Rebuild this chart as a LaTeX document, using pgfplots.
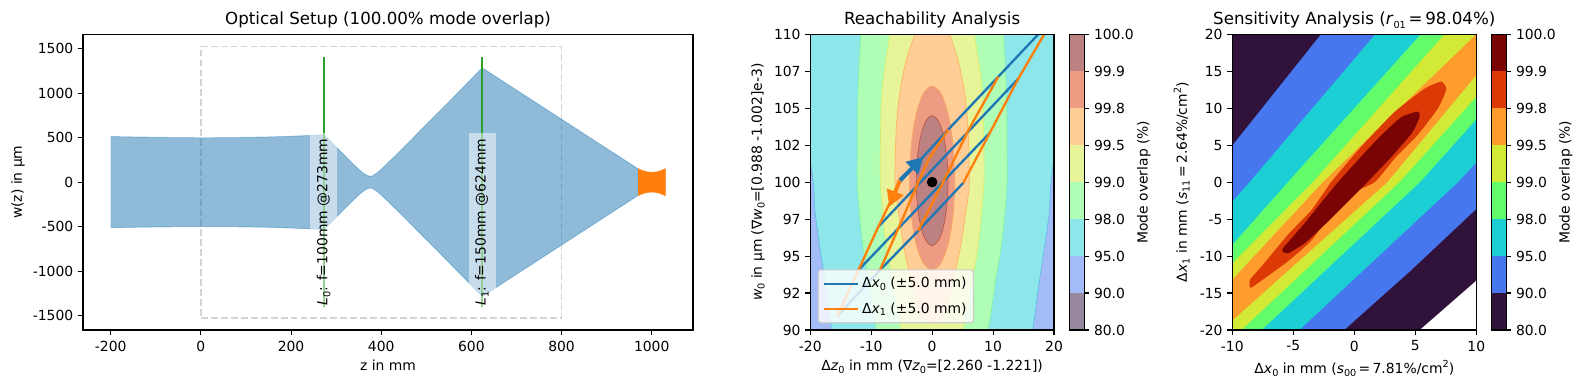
\documentclass[border=0pt]{standalone}
\usepackage{fontspec}
\setmainfont{DejaVu Sans}
\usepackage{pgfplots}
\pgfplotsset{compat=1.18}
\usetikzlibrary{arrows.meta}
\newcommand\sz{\fontsize{10.04}{12}\selectfont}
\newcommand\tsz{\fontsize{12.05}{14}\selectfont}
\newcommand\subs[1]{\raisebox{-0.2em}{\fontsize{7}{7}\selectfont #1}}
\newcommand\sups[1]{\raisebox{0.42em}{\fontsize{7}{7}\selectfont #1}}
\definecolor{tabblue}{HTML}{1F77B4}
\definecolor{taborange}{HTML}{FF7F0E}
\definecolor{tabgreen}{HTML}{2CA02C}
\definecolor{ta}{HTML}{30123B}
\definecolor{tb}{HTML}{4777EF}
\definecolor{tc}{HTML}{1BCFD4}
\definecolor{td}{HTML}{62FC6B}
\definecolor{te}{HTML}{D2E935}
\definecolor{tf}{HTML}{FE9B2D}
\definecolor{tg}{HTML}{DB3A07}
\definecolor{th}{HTML}{7A0403}
\pgfplotsset{
  base/.style={scale only axis, axis line style={line width=0.8pt}, 
    tick align=outside, major tick length=3.5pt, tick style={black,line width=0.8pt},
    xtick pos=bottom, ytick pos=left, axis on top, no markers,
    tick label style={font=\sz}, label style={font=\sz},
    xticklabel style={yshift=-0.7pt},
    every axis title shift=0pt,
    title style={font=\tsz, at={(axis description cs:0.5,1.048)},anchor=center},
    scaled ticks=false},
  cbar/.style={scale only axis, width=0.15in, height=2.957in, xmin=0,xmax=1,ymin=0,ymax=8,
    xtick=\empty, ytick={0,1,2,3,4,5,6,7,8},
    yticklabels={80.0,90.0,95.0,98.0,99.0,99.5,99.8,99.9,100.0},
    yticklabel pos=right, ytick pos=right, no markers, axis on top,
    axis line style={line width=0.8pt}, tick align=outside, major tick length=3.5pt,
    tick style={black,line width=0.8pt}, tick label style={font=\sz}, label style={font=\sz},
    ylabel={Mode overlap (\%)},
    ylabel style={at={(axis description cs:4.97,0.5)},anchor=center}},
}
\begin{document}
\begin{tikzpicture}
\path[use as bounding box] (0,0) rectangle (15.84in,3.9in);
%---------------- optical setup
\begin{axis}[base, at={(0.83in,0.60in)}, width=6.10in, height=2.957in,
  xmin=-261.5, xmax=1091.5, ymin=-1660, ymax=1660,
  xtick={-200,0,200,400,600,800,1000}, xticklabels={-200,0,200,400,600,800,1000},
  ytick={-1500,-1000,-500,0,500,1000,1500}, yticklabels={-1500,-1000,-500,0,500,1000,1500},
  title={Optical Setup (100.00\% mode overlap)},
  xlabel={z in mm}, ylabel={w(z) in µm},
  xlabel style={at={(axis description cs:0.5,-0.118)},anchor=center},
  ylabel style={at={(axis description cs:-0.1066,0.5)},anchor=center}]
\addplot[draw=black!17, line width=0.9pt, dash pattern=on 5pt off 2.2pt] coordinates {(0,-1525)(800,-1525)(800,1525)(0,1525)(0,-1525)};
\addplot[fill=tabblue, fill opacity=0.5, draw=tabblue, draw opacity=0.35, line width=0.7pt] coordinates {
 (-200,512)(-150,507)(-100,503)(-50,500)(0,498)(50,499)(100,502)(150,507)(200,515)(250,526)(273,533)
 (300,395)(320,293)(340,193)(350,145)(360,101)(370,72)(375,66)(380,69)(390,101)(400,144)(420,241)(450,391)(500,647)(550,901)(600,1159)(624,1283)
 (700,1034)(800,706)(900,378)(970,148)
 (970,-148)(900,-378)(800,-706)(700,-1034)(624,-1283)
 (600,-1159)(550,-901)(500,-647)(450,-391)(420,-241)(400,-144)(390,-101)(380,-69)(375,-66)(370,-72)(360,-101)(350,-145)(340,-193)(320,-293)(300,-395)
 (273,-533)(250,-526)(200,-515)(150,-507)(100,-502)(50,-499)(0,-498)(-50,-500)(-100,-503)(-150,-507)(-200,-512)};
\addplot[fill=taborange, draw=taborange, line width=0.5pt] coordinates {
 (970,150)(980,128)(990,114)(1000,110)(1010,114)(1020,128)(1030,150)
 (1030,-150)(1020,-128)(1010,-114)(1000,-110)(990,-114)(980,-128)(970,-150)};
\addplot[draw=tabgreen, line width=1.8pt] coordinates {(273,-1400)(273,1400)};
\addplot[draw=tabgreen, line width=1.8pt] coordinates {(624,-1400)(624,1400)};
\node[rotate=90, fill=white, fill opacity=0.5, text opacity=1, font=\sz, inner xsep=0.06in, inner ysep=0.07in, text height=0.1in, text depth=0.03in] at (axis cs:273,-449) {\textit{L}\subs{0}: f=100mm @273mm};
\node[rotate=90, fill=white, fill opacity=0.5, text opacity=1, font=\sz, inner xsep=0.06in, inner ysep=0.07in, text height=0.1in, text depth=0.03in] at (axis cs:624,-449) {\textit{L}\subs{1}: f=150mm @624mm};
\end{axis}
%---------------- reachability
\begin{axis}[base, at={(8.103in,0.60in)}, width=2.437in, height=2.957in,
  xmin=-20,xmax=20,ymin=90,ymax=110,
  xtick={-20,-10,0,10,20}, xticklabels={-20,-10,0,10,20},
  ytick={90,92.5,95,97.5,100,102.5,105,107.5,110}, yticklabels={90,92,95,97,100,102,105,107,110},
  title={Reachability Analysis},
  xlabel={Δ\textit{z}\subs{0} in mm (∇\textit{z}\subs{0}=[2.260 -1.221])},
  ylabel={\textit{w}\subs{0} in µm (∇\textit{w}\subs{0}=[0.988 -1.002]e-3)},
  xlabel style={at={(axis description cs:0.5,-0.124)},anchor=center},
  ylabel style={at={(axis description cs:-0.2146,0.5)},anchor=center},
  legend style={at={(0.0304,0.0227)},anchor=south west, fill=white, fill opacity=0.8, text opacity=1, draw=black!20, draw opacity=1, rounded corners=2pt, font=\sz, inner xsep=3pt, inner ysep=3.5pt, row sep=5pt, line width=0.8pt},
  legend cell align=left,
  legend image code/.code={\draw[#1] (0in,0in) -- (0.285in,0in); \path (0in,0in) -- (0.345in,0in);}]
\addplot[fill=tb!50!white, draw=none, forget plot] coordinates {(-20,90)(20,90)(20,110)(-20,110)};
\addplot[fill=tc!50!white, draw=tb!50!tc!75!white, line width=0.5pt, /tikz/smooth cycle, forget plot] coordinates {
 (-30,125)(-21,104)(-20,101.5)(-19.5,100)(-19.2,97.9)(-18.4,95.5)(-17.6,93.3)(-16.9,91.1)(-16.5,90)(-15.5,87)(-10,84)
 (10,84)(15.5,87)(16.5,90)(16.9,91.1)(17.6,93.3)(18.4,95.5)(19.2,97.9)(19.5,100)(20,101.5)(21,104)(30,125)};
\addplot[fill=td!50!white, draw=td!75!tc!75!white, line width=0.5pt, /tikz/smooth cycle, forget plot] coordinates {
 (-11.7,113)(-11.75,110)(-12,108)(-12.25,105)(-12.3,102)(-12.3,100)(-11.95,97.9)(-11.3,95.5)(-10.4,93.3)(-9.65,91.1)(-9.2,90)(-8.5,87)
 (8.5,87)(9.2,90)(9.65,91.1)(10.4,93.3)(11.3,95.5)(11.95,97.9)(12.3,100)(12.3,102)(12.25,105)(12,108)(11.75,110)(11.7,113)};
\addplot[fill=te!50!white, draw=te!85!td!75!white, line width=0.5pt, /tikz/smooth cycle, forget plot] coordinates {
 (-6.3,113)(-6.95,110)(-7.7,108)(-8.3,105.8)(-8.5,102.5)(-8.5,100)(-8.1,97.9)(-7.5,95.5)(-6.5,93.3)(-5.5,91.1)(-5.1,90)(-4,87)
 (4,87)(5.1,90)(5.5,91.1)(6.5,93.3)(7.5,95.5)(8.1,97.9)(8.5,100)(8.5,102.5)(8.3,105.8)(7.7,108)(6.95,110)(6.3,113)};
\addplot[fill=tf!50!white, draw=tf!75!white, line width=0.5pt, /tikz/smooth cycle, forget plot] coordinates {
 (0,112.8)(-1.5,112)(-2.9,110)(-4.4,108)(-5.4,105.8)(-5.9,103.5)(-6.1,100)(-5.5,97.9)(-4.6,95.5)(-3.4,93.3)(-2,91.1)(-0.8,90.6)(0,90.5)
 (0.8,90.6)(2,91.1)(3.4,93.3)(4.6,95.5)(5.5,97.9)(6.1,100)(5.9,103.5)(5.4,105.8)(4.4,108)(2.9,110)(1.5,112)};
\addplot[fill=tg!50!white, draw=tf!80!tg!75!white, line width=0.5pt, /tikz/smooth cycle, forget plot] coordinates {
 (0,106.5)(-1.11,106.2)(-1.67,105.8)(-2.36,105)(-2.92,104)(-3.41,102.5)(-3.7,100)(-3.48,98)(-2.99,96.5)(-2.42,95.5)(-1.41,94.5)(0,94.05)
 (1.41,94.5)(2.42,95.5)(2.99,96.5)(3.48,98)(3.7,100)(3.41,102.5)(2.92,104)(2.36,105)(1.67,105.8)(1.11,106.2)};
\addplot[fill=th!50!white, draw=th!55!tg!75!white, line width=0.5pt, /tikz/smooth cycle, forget plot] coordinates {
 (0,104.5)(-0.76,104.3)(-1.19,104)(-1.63,103.5)(-1.94,103)(-2.33,102)(-2.53,101)(-2.6,100)(-2.53,99)(-2.3,98)(-1.86,97)(-1.51,96.5)(-0.95,96)(0,95.7)
 (0.95,96)(1.51,96.5)(1.86,97)(2.3,98)(2.53,99)(2.6,100)(2.53,101)(2.33,102)(1.94,103)(1.63,103.5)(1.19,104)(0.76,104.3)};
% x0 scans
\addplot[tabblue, line width=1.7pt] coordinates {(-15.57,90.94)(-8.57,94.05)(-2.28,96.71)(5.1,99.95)};
\addlegendentry{Δ\textit{x}\subs{0} (±5.0 mm)}
\addplot[tabblue, line width=1.7pt, forget plot] coordinates {(-12.1,94.05)(9.48,103.34)};
\addplot[tabblue, line width=1.7pt, forget plot] coordinates {(-8.84,96.98)(14.14,107)};
\addplot[tabblue, line width=1.7pt, forget plot] coordinates {(-5.3,100)(2.65,103.56)(10.85,107.13)(17.42,110)(18.3,110.4)};
% x1 scans
\addplot[taborange, line width=1.7pt] coordinates {(-15.57,90.94)(-12.1,94.05)(-8.84,96.98)(-5.3,100)};
\addlegendentry{Δ\textit{x}\subs{1} (±5.0 mm)}
\addplot[taborange, line width=1.7pt, forget plot] coordinates {(-8.57,94.05)(-4.46,97.9)(-2.28,100)(-0.63,101.5)(2.65,103.56)};
\addplot[taborange, line width=1.7pt, forget plot] coordinates {(-2.28,96.71)(1.83,100.03)(5.93,103.5)(10.85,107.13)};
\addplot[taborange, line width=1.7pt, forget plot] coordinates {(5.1,99.95)(9.48,103.34)(14.14,107)(18.4,110)(19,110.4)};
% gradients
\addplot[taborange, line width=2.8pt, -{Triangle[length=0.16in,width=0.17in]}, forget plot] coordinates {(-5.28,100.14)(-7.04,98.34)};
\addplot[tabblue, line width=2.8pt, -{Triangle[length=0.16in,width=0.17in]}, forget plot] coordinates {(-5.28,100.14)(-1.46,101.7)};
\addplot[only marks, mark=*, mark size=3.6pt, black, forget plot] coordinates {(0,100)};
\end{axis}
%---------------- colorbar 1
\begin{axis}[cbar, at={(10.693in,0.60in)}]
\addplot[fill=ta!50!white,draw=none] coordinates {(0,0)(1,0)(1,1)(0,1)};
\addplot[fill=tb!50!white,draw=none] coordinates {(0,1)(1,1)(1,2)(0,2)};
\addplot[fill=tc!50!white,draw=none] coordinates {(0,2)(1,2)(1,3)(0,3)};
\addplot[fill=td!50!white,draw=none] coordinates {(0,3)(1,3)(1,4)(0,4)};
\addplot[fill=te!50!white,draw=none] coordinates {(0,4)(1,4)(1,5)(0,5)};
\addplot[fill=tf!50!white,draw=none] coordinates {(0,5)(1,5)(1,6)(0,6)};
\addplot[fill=tg!50!white,draw=none] coordinates {(0,6)(1,6)(1,7)(0,7)};
\addplot[fill=th!50!white,draw=none] coordinates {(0,7)(1,7)(1,8)(0,8)};
\end{axis}
%---------------- sensitivity
\begin{axis}[base, at={(12.323in,0.60in)}, width=2.44in, height=2.957in,
  xmin=-10,xmax=10,ymin=-20,ymax=20,
  xtick={-10,-5,0,5,10}, xticklabels={-10,-5,0,5,10},
  ytick={-20,-15,-10,-5,0,5,10,15,20}, yticklabels={-20,-15,-10,-5,0,5,10,15,20},
  title={Sensitivity Analysis (\textit{r}\subs{01}\,=\,98.04\%)},
  xlabel={Δ\textit{x}\subs{0} in mm (\textit{s}\subs{00}\,=\,7.81\%/cm\sups{2})},
  ylabel={Δ\textit{x}\subs{1} in mm (\textit{s}\subs{11}\,=\,2.64\%/cm\sups{2})},
  xlabel style={at={(axis description cs:0.5,-0.13)},anchor=center},
  ylabel style={at={(axis description cs:-0.2074,0.5)},anchor=center}]
\addplot[fill=ta,draw=none] coordinates {(-10,-20)(5.35,-20)(10,-13.3)(10,20)(-10,20)};
\addplot[fill=tb,draw=none] coordinates {(-10,4.95)(-6.4,12.4)(-2.73,20)(10,20)(10,-3.63)(4.6,-12)(-0.83,-20)(-10,-20)};
\addplot[fill=tc,draw=none] coordinates {(-10,-2.64)(-8.58,0)(1.72,20)(10,20)(10,2.68)(8.5,0)(-4.5,-20)(-10,-20)};
\addplot[fill=td,draw=none] coordinates {(-10,-8.5)(-5.44,0)(5.45,20)(10,20)(10,8.5)(5.38,0)(-7.6,-20)(-10,-20)};
\addplot[fill=te,draw=none] coordinates {(-10,-11)(-3.4,0)(7.4,20)(10,20)(10,11.56)(3.7,0)(-9.26,-20)(-10,-20)};
\addplot[fill=tf,draw=none] coordinates {(-10,-13.2)(-2.57,0)(10,20)(10,14.5)(2.7,0)(-10,-18.7)};
\addplot[fill=tg,draw=none,/tikz/smooth cycle,/tikz/tension=0.3] coordinates {(-1.9,0)(0.57,4.8)(3.3,9.5)(5.77,12.65)(7.13,13.6)(7.54,12.56)(6.86,10)(5.2,6.4)(3.3,3.2)(1.67,0)
 (-0.93,-2.2)(-3.52,-7.9)(-5.44,-10.7)(-7.35,-13)(-8.5,-14.3)(-8.55,-13.2)(-7.6,-11.4)(-5.44,-7.1)(-3.52,-3.8)};
\addplot[fill=th,draw=none,/tikz/smooth cycle,/tikz/tension=0.3] coordinates {(-1.34,0)(1.94,5.9)(3.85,8.8)(5.22,9.54)(5.36,8.86)(4.8,6.83)(3.3,3.9)(1.07,0)
 (-2.16,-5.34)(-4.07,-8.27)(-5.44,-9.63)(-5.85,-9.4)(-5.85,-8.95)(-4.2,-5.8)};
\end{axis}
%---------------- colorbar 2
\begin{axis}[cbar, at={(14.913in,0.60in)}]
\addplot[fill=ta,draw=none] coordinates {(0,0)(1,0)(1,1)(0,1)};
\addplot[fill=tb,draw=none] coordinates {(0,1)(1,1)(1,2)(0,2)};
\addplot[fill=tc,draw=none] coordinates {(0,2)(1,2)(1,3)(0,3)};
\addplot[fill=td,draw=none] coordinates {(0,3)(1,3)(1,4)(0,4)};
\addplot[fill=te,draw=none] coordinates {(0,4)(1,4)(1,5)(0,5)};
\addplot[fill=tf,draw=none] coordinates {(0,5)(1,5)(1,6)(0,6)};
\addplot[fill=tg,draw=none] coordinates {(0,6)(1,6)(1,7)(0,7)};
\addplot[fill=th,draw=none] coordinates {(0,7)(1,7)(1,8)(0,8)};
\end{axis}
\end{tikzpicture}
\end{document}
